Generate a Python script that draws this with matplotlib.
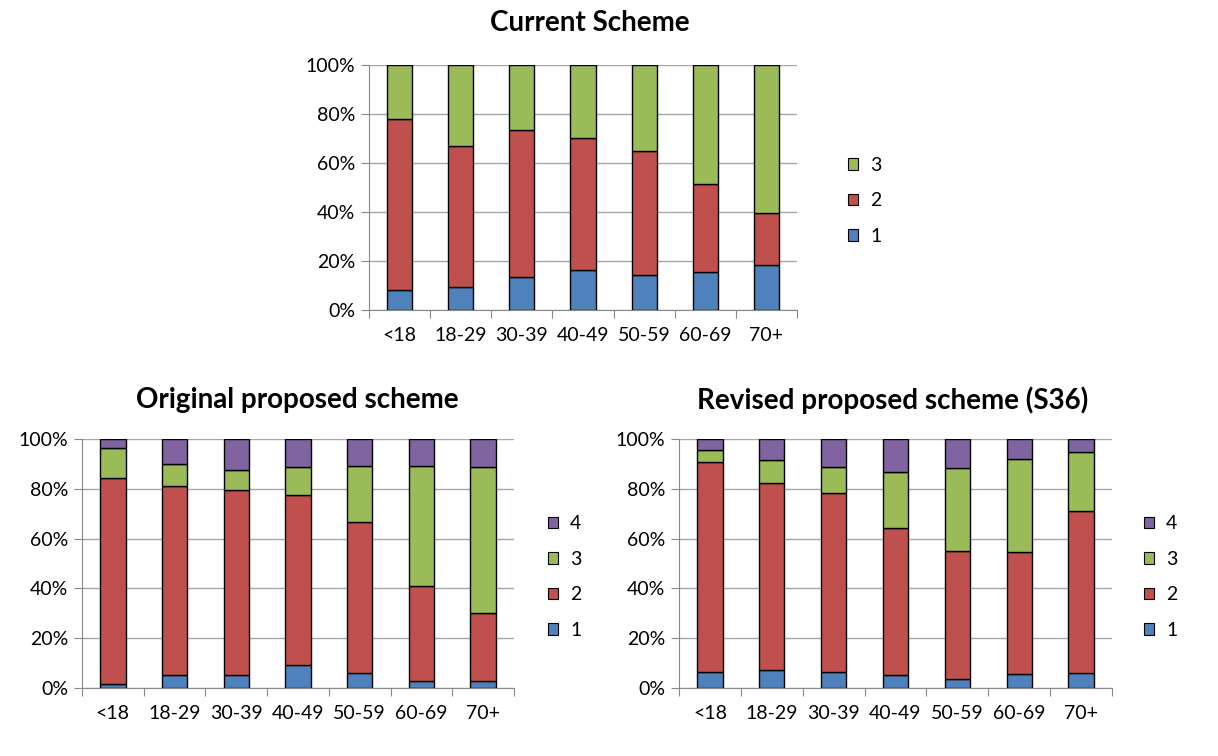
import matplotlib
matplotlib.use('Agg')
import matplotlib.pyplot as plt
from matplotlib.patches import Patch
from matplotlib.ticker import PercentFormatter
import numpy as np

plt.rcParams['font.family'] = ['Lato', 'DejaVu Sans']

ages = ['<18', '18-29', '30-39', '40-49', '50-59', '60-69', '70+']

# Current scheme (% share of each class)
cur_1 = [8.2, 9.2, 13.3, 16.4, 14.4, 15.5, 18.5]
cur_2 = [69.9, 57.9, 60.1, 53.8, 50.7, 35.9, 20.9]
cur_3 = [21.9, 32.9, 26.6, 29.8, 34.9, 48.6, 60.6]

# Original proposed scheme
orig_1 = [1.5, 5.1, 5.1, 9.1, 6.0, 2.9, 2.9]
orig_2 = [82.8, 76.1, 74.5, 68.6, 60.6, 38.0, 27.4]
orig_3 = [12.1, 8.6, 7.8, 11.2, 22.7, 48.4, 58.4]
orig_4 = [3.6, 10.2, 12.6, 11.1, 10.7, 10.7, 11.3]

# Revised proposed scheme (S36)
rev_1 = [6.6, 7.1, 6.6, 5.1, 3.6, 5.6, 6.0]
rev_2 = [84.2, 75.2, 71.7, 59.0, 51.5, 49.0, 65.2]
rev_3 = [4.6, 9.1, 10.6, 22.6, 33.2, 37.4, 23.6]
rev_4 = [4.6, 8.6, 11.1, 13.3, 11.7, 8.0, 5.2]

colors = ['#4F81BD', '#C0504D', '#9BBB59', '#8064A2']
W, H = 1218, 756
FS = 14


def stacked(fig, rect, series, title, title_xy, leg_xy):
    ax = fig.add_axes(rect)
    x = np.arange(len(ages))
    bottom = np.zeros(len(ages))
    for i, s in enumerate(series):
        ax.bar(x, s, 0.41, bottom=bottom, color=colors[i],
               edgecolor='black', linewidth=1, zorder=3)
        bottom += np.array(s)
    ax.set_xlim(-0.5, len(ages) - 0.5)
    ax.set_ylim(0, 100)
    ax.set_yticks(range(0, 101, 20))
    ax.yaxis.set_major_formatter(PercentFormatter(decimals=0))
    ax.set_xticks(np.arange(-0.5, len(ages), 1))
    ax.set_xticklabels([])
    ax.set_xticks(x, minor=True)
    ax.set_xticklabels(ages, minor=True)
    ax.tick_params(axis='x', which='minor', length=0, pad=12, labelsize=FS)
    ax.tick_params(axis='x', which='major', length=6, color='#888888')
    ax.tick_params(axis='y', length=6, color='#888888', labelsize=FS, pad=4)
    ax.grid(axis='y', color='#A6A6A6', linewidth=1, zorder=0)
    for sp in ['top', 'right']:
        ax.spines[sp].set_visible(False)
    for sp in ['left', 'bottom']:
        ax.spines[sp].set_color('#888888')
    fig.text(title_xy[0] / W, 1 - title_xy[1] / H, title, ha='center', va='center',
             fontsize=20, fontweight='bold')
    handles = [Patch(facecolor=colors[i], edgecolor='black', linewidth=0.8)
               for i in range(len(series))][::-1]
    labels = [str(i + 1) for i in range(len(series))][::-1]
    fig.legend(handles, labels, loc='center left',
               bbox_to_anchor=(leg_xy[0] / W, 1 - leg_xy[1] / H),
               frameon=False, fontsize=FS, handlelength=0.55, handleheight=0.55,
               handletextpad=0.6, labelspacing=0.95, borderaxespad=0)
    return ax


def rect(l, r, t, b):
    return [l / W, 1 - b / H, (r - l) / W, (b - t) / H]


fig = plt.figure(figsize=(W / 100, H / 100), dpi=100)

stacked(fig, rect(369, 797, 65, 310), [cur_1, cur_2, cur_3],
        'Current Scheme', (590, 23), (840, 201))
stacked(fig, rect(82, 514, 439, 688), [orig_1, orig_2, orig_3, orig_4],
        'Original proposed scheme', (297, 400), (540, 577))
stacked(fig, rect(679, 1112, 439, 688), [rev_1, rev_2, rev_3, rev_4],
        'Revised proposed scheme (S36)', (893, 400), (1136, 577))

fig.savefig('out.png', dpi=100)
